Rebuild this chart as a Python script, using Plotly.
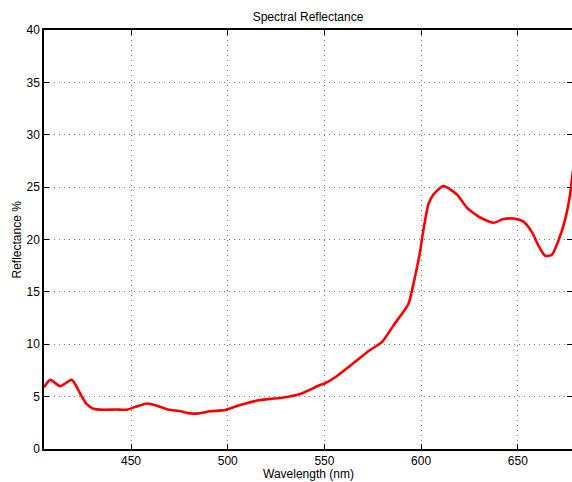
import plotly.graph_objects as go

wavelength = [405, 408.2, 413.4, 419.4, 423.7, 427, 430.5, 436, 442, 447.8, 452, 458.2, 463,
              468.5, 475.6, 480.6, 485, 491, 498.7, 506.4, 516.8, 527.1, 537.4, 546.9, 550,
              556, 563.3, 573.6, 579.7, 585.7, 593.4, 596, 599.5, 600.3, 602, 603.8, 606.4,
              611.5, 618.5, 623.6, 628.8, 630.5, 637.4, 642.6, 647.8, 652.9, 657.3, 660.7,
              664.1, 667.6, 671, 674.5, 677, 678.5]
reflectance = [5.9, 6.6, 6.0, 6.6, 5.3, 4.3, 3.85, 3.75, 3.77, 3.75, 4.0, 4.35, 4.15,
               3.8, 3.6, 3.4, 3.4, 3.6, 3.72, 4.2, 4.68, 4.87, 5.25, 6.04, 6.25,
               6.9, 7.95, 9.45, 10.2, 11.8, 13.85, 15.75, 18.9, 19.9, 21.8, 23.4, 24.3,
               25.1, 24.3, 23.05, 22.3, 22.1, 21.6, 21.95, 22.0, 21.7, 20.7, 19.4,
               18.45, 18.55, 19.9, 21.95, 24.3, 26.6]

x_ticks = [450, 500, 550, 600, 650]
y_ticks = [0, 5, 10, 15, 20, 25, 30, 35, 40]

fig = go.Figure()
fig.add_trace(go.Scatter(x=wavelength, y=reflectance, mode="lines",
                         line=dict(color="#ff0000", width=2.6, shape="spline", smoothing=0.6),
                         cliponaxis=True, showlegend=False))

font = dict(family="Liberation Sans, Arial, Helvetica, sans-serif", size=12, color="#000000")
axis_common = dict(showgrid=True, gridcolor="#7a7a7a", griddash="1px,4px", gridwidth=1,
                   showline=True, linecolor="black", linewidth=1.5, mirror="ticks",
                   ticks="inside", ticklen=5, tickcolor="black", zeroline=False,
                   automargin=False)
fig.update_layout(
    width=572, height=482,
    margin=dict(l=44, r=0, t=30, b=33),
    paper_bgcolor="white", plot_bgcolor="white",
    font=font,
    title=dict(text="Spectral Reflectance", x=308 / 572, xanchor="center",
               y=1 - 17 / 482, yanchor="middle", font=dict(size=12)),
    xaxis=dict(range=[405, 678], tickvals=x_ticks, ticktext=[str(v) for v in x_ticks],
               **axis_common),
    yaxis=dict(range=[0, 40], tickvals=y_ticks, ticktext=[str(v) for v in y_ticks],
               **axis_common),
    annotations=[
        dict(text="Wavelength (nm)", xref="paper", yref="paper", x=0.5, y=-25 / 419,
             yanchor="middle", xanchor="center", showarrow=False, font=dict(size=12)),
        dict(text="Reflectance %", xref="paper", yref="paper", x=-28 / 528, y=0.5,
             xanchor="center", yanchor="middle", textangle=-90, showarrow=False,
             font=dict(size=12)),
    ],
)
fig.write_html("out.html", config={"displayModeBar": False},
               post_script="document.body.style.margin='0';")
